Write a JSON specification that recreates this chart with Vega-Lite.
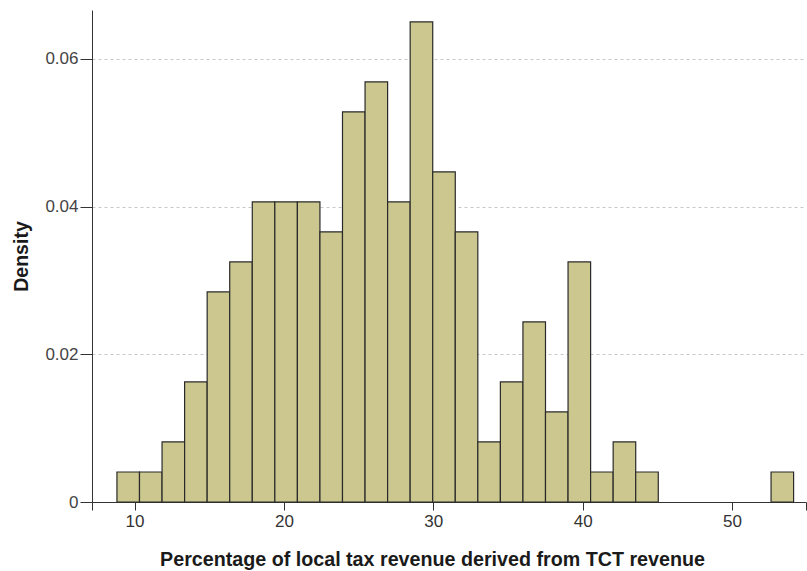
{
  "$schema": "https://vega.github.io/schema/vega-lite/v6.json",
  "autosize": "none",
  "width": 714,
  "height": 492,
  "padding": {"left": 92, "top": 10, "right": 1, "bottom": 69},
  "config": {
    "view": {"stroke": null},
    "font": "Liberation Sans, Arial, sans-serif"
  },
  "data": {
    "values": [
      {"bin_start": 8.82, "bin_end": 10.33, "density": 0.00406},
      {"bin_start": 10.33, "bin_end": 11.84, "density": 0.00406},
      {"bin_start": 11.84, "bin_end": 13.35, "density": 0.00813},
      {"bin_start": 13.35, "bin_end": 14.86, "density": 0.01625},
      {"bin_start": 14.86, "bin_end": 16.37, "density": 0.02844},
      {"bin_start": 16.37, "bin_end": 17.88, "density": 0.0325},
      {"bin_start": 17.88, "bin_end": 19.39, "density": 0.04063},
      {"bin_start": 19.39, "bin_end": 20.90, "density": 0.04063},
      {"bin_start": 20.90, "bin_end": 22.41, "density": 0.04063},
      {"bin_start": 22.41, "bin_end": 23.92, "density": 0.03657},
      {"bin_start": 23.92, "bin_end": 25.43, "density": 0.05282},
      {"bin_start": 25.43, "bin_end": 26.94, "density": 0.05688},
      {"bin_start": 26.94, "bin_end": 28.45, "density": 0.04063},
      {"bin_start": 28.45, "bin_end": 29.96, "density": 0.065},
      {"bin_start": 29.96, "bin_end": 31.47, "density": 0.04469},
      {"bin_start": 31.47, "bin_end": 32.98, "density": 0.03657},
      {"bin_start": 32.98, "bin_end": 34.49, "density": 0.00813},
      {"bin_start": 34.49, "bin_end": 36.00, "density": 0.01625},
      {"bin_start": 36.00, "bin_end": 37.51, "density": 0.02438},
      {"bin_start": 37.51, "bin_end": 39.02, "density": 0.01219},
      {"bin_start": 39.02, "bin_end": 40.53, "density": 0.0325},
      {"bin_start": 40.53, "bin_end": 42.04, "density": 0.00406},
      {"bin_start": 42.04, "bin_end": 43.55, "density": 0.00813},
      {"bin_start": 43.55, "bin_end": 45.06, "density": 0.00406},
      {"bin_start": 52.61, "bin_end": 54.12, "density": 0.00406}
    ]
  },
  "mark": {"type": "rect", "fill": "#cbc78f", "stroke": "#2a2a2a", "strokeWidth": 1.2},
  "encoding": {
    "x": {
      "field": "bin_start",
      "type": "quantitative",
      "scale": {"domain": [7.15, 54.95], "nice": false, "zero": false},
      "axis": {
        "title": "Percentage of local tax revenue derived from TCT revenue",
        "titleFontSize": 19.7,
        "titleFontWeight": "bold",
        "titleColor": "#1a1a1a",
        "titlePadding": 20,
        "titleX": 340,
        "values": [7.15, 10, 20, 30, 40, 50, 54.95],
        "labelExpr": "datum.value < 8 || datum.value > 54 ? '' : datum.label",
        "labelFontSize": 17,
        "labelColor": "#333333",
        "labelPadding": 3,
        "tickSize": 8,
        "tickColor": "#333333",
        "domainColor": "#333333",
        "grid": false,
        "labelFlush": false
      }
    },
    "x2": {"field": "bin_end"},
    "y": {
      "field": "density",
      "type": "quantitative",
      "scale": {"domain": [0, 0.0666], "nice": false},
      "axis": {
        "title": "Density",
        "titleFontSize": 19.5,
        "titleFontWeight": "bold",
        "titleColor": "#1a1a1a",
        "titlePadding": 13,
        "values": [0, 0.02, 0.04, 0.06],
        "labelExpr": "datum.value == 0 ? '0' : format(datum.value, '.2f')",
        "labelFontSize": 17,
        "labelColor": "#444444",
        "labelPadding": 2,
        "tickSize": 12,
        "tickColor": "#333333",
        "domainColor": "#333333",
        "grid": true,
        "gridColor": "#c8c8c8",
        "gridDash": [3, 3],
        "gridWidth": 1
      }
    },
    "y2": {"datum": 0}
  }
}
